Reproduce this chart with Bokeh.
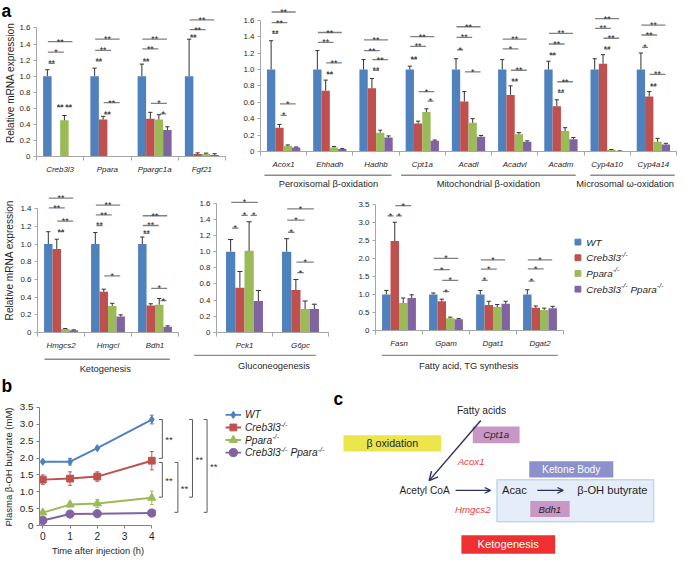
import math
from bokeh.plotting import figure
from bokeh.models import Range1d, FixedTicker, Arrow, OpenHead
from bokeh.layouts import row, column
from bokeh.embed import file_html
from bokeh.resources import INLINE
from bokeh.core.properties import value

S = 0.97
FONT = "Liberation Sans"
AXC = "#a6a6a6"
TXT = "#1f1f1f"
SIGC = "#808080"
ERRC = "#333333"
NAVY = "#2e3061"
REDTXT = "#ee3b3b"

# ---------------- data ----------------
series_colors = ["#4f81bd", "#c0504d", "#9bbb59", "#8064a2"]
legend_parts = [
    [("WT", False)],
    [("Creb3l3", False), ("-/-", True)],
    [("Ppara", False), ("-/-", True)],
    [("Creb3l3", False), ("-/-", True), (" ", False), ("Ppara", False), ("-/-", True)],
]

a_yticks16 = [0, 0.2, 0.4, 0.6, 0.8, 1.0, 1.2, 1.4, 1.6]
a_yticks14 = [0, 0.2, 0.4, 0.6, 0.8, 1.0, 1.2, 1.4]
y_ticks35 = [0, 0.5, 1.0, 1.5, 2.0, 2.5, 3.0, 3.5]

genes_a1 = ["Creb3l3", "Ppara", "Ppargc1a", "Fgf21"]
a1_wt = [1.00, 1.00, 1.00, 1.00]
a1_wt_err = [0.08, 0.10, 0.15, 0.46]
a1_creb = [0.00, 0.46, 0.47, 0.03]
a1_creb_err = [0.00, 0.04, 0.08, 0.015]
a1_ppara = [0.45, 0.00, 0.46, 0.03]
a1_ppara_err = [0.06, 0.00, 0.06, 0.012]
a1_dko = [0.00, 0.00, 0.33, 0.02]
a1_dko_err = [0.00, 0.00, 0.04, 0.015]
a1_sig = [(0, 0, 1, 1.16, "**"), (0, 0, 2, 1.30, "*"), (0, 0, 3, 1.43, "**"),
          (0, 1, 2, 0.62, "**"), (0, 2, 3, 0.62, "**"),
          (1, 0, 1, 1.19, "**"), (1, 0, 2, 1.32, "**"), (1, 0, 3, 1.46, "**"),
          (1, 1, 2, 0.53, "**"), (1, 1, 3, 0.67, "**"),
          (2, 0, 1, 1.19, "**"), (2, 0, 2, 1.34, "**"), (2, 0, 3, 1.46, "**"),
          (2, 1, 3, 0.66, "*"), (2, 2, 3, 0.53, "*"),
          (3, 0, 1, 1.49, "**"), (3, 0, 2, 1.58, "**"), (3, 0, 3, 1.70, "**")]

genes_a2 = ["Acox1", "Ehhadh", "Hadhb", "Cpt1a", "Acadl", "Acadvl", "Acadm", "Cyp4a10", "Cyp4a14"]
a2_wt = [1.00, 1.00, 1.00, 1.00, 1.00, 1.00, 1.00, 1.00, 1.00]
a2_wt_err = [0.35, 0.23, 0.12, 0.04, 0.13, 0.12, 0.10, 0.13, 0.20]
a2_creb = [0.29, 0.74, 0.77, 0.34, 0.61, 0.69, 0.55, 1.07, 0.67]
a2_creb_err = [0.04, 0.13, 0.12, 0.03, 0.12, 0.11, 0.08, 0.11, 0.06]
a2_ppara = [0.07, 0.05, 0.23, 0.48, 0.35, 0.21, 0.25, 0.02, 0.12]
a2_ppara_err = [0.01, 0.01, 0.03, 0.04, 0.05, 0.02, 0.04, 0.005, 0.04]
a2_dko = [0.05, 0.03, 0.17, 0.13, 0.18, 0.12, 0.15, 0.005, 0.085]
a2_dko_err = [0.005, 0.005, 0.02, 0.01, 0.015, 0.01, 0.02, 0.003, 0.015]
a2_sig = [(0, 0, 1, 1.44, "**"), (0, 0, 2, 1.57, "**"), (0, 0, 3, 1.70, "**"),
          (0, 1, 2, 0.44, "*"), (0, 1, 3, 0.58, "*"),
          (1, 0, 2, 1.33, "**"), (1, 0, 3, 1.45, "**"), (1, 1, 2, 0.95, "**"), (1, 1, 3, 1.08, "**"),
          (2, 0, 2, 1.23, "**"), (2, 0, 3, 1.36, "**"), (2, 1, 2, 0.99, "**"), (2, 1, 3, 1.12, "**"),
          (3, 0, 1, 1.13, "**"), (3, 0, 2, 1.28, "**"), (3, 0, 3, 1.40, "**"),
          (3, 1, 3, 0.73, "*"), (3, 2, 3, 0.615, "*"),
          (4, 0, 1, 1.24, "*"), (4, 0, 2, 1.39, "**"), (4, 0, 3, 1.52, "**"), (4, 1, 3, 0.97, "*"),
          (5, 0, 2, 1.25, "*"), (5, 0, 3, 1.37, "**"), (5, 1, 2, 0.86, "**"), (5, 1, 3, 0.99, "**"),
          (6, 0, 1, 1.18, "**"), (6, 0, 2, 1.31, "**"), (6, 0, 3, 1.44, "**"),
          (6, 1, 2, 0.72, "**"), (6, 1, 3, 0.85, "**"),
          (7, 0, 2, 1.50, "**"), (7, 0, 3, 1.62, "**"), (7, 1, 2, 1.25, "**"), (7, 1, 3, 1.38, "**"),
          (8, 0, 1, 1.27, "*"), (8, 0, 2, 1.42, "**"), (8, 0, 3, 1.54, "**"),
          (8, 1, 2, 0.80, "**"), (8, 1, 3, 0.94, "**")]
a2_groups = ["Peroxisomal \u03b2-oxidation", "Mitochondrial \u03b2-oxidation", "Microsomal \u03c9-oxidation"]

genes_a3 = ["Hmgcs2", "Hmgcl", "Bdh1"]
a3_wt = [1.00, 1.00, 1.00]
a3_wt_err = [0.14, 0.13, 0.08]
a3_creb = [0.945, 0.46, 0.305]
a3_creb_err = [0.11, 0.03, 0.02]
a3_ppara = [0.04, 0.30, 0.315]
a3_ppara_err = [0.005, 0.03, 0.07]
a3_dko = [0.025, 0.18, 0.065]
a3_dko_err = [0.005, 0.02, 0.01]
a3_sig = [(0, 0, 3, 1.52, "**"), (0, 0, 2, 1.41, "**"), (0, 1, 3, 1.26, "**"), (0, 1, 2, 1.14, "**"),
          (1, 0, 3, 1.44, "**"), (1, 0, 2, 1.33, "**"), (1, 0, 1, 1.21, "**"), (1, 1, 3, 0.64, "*"),
          (2, 0, 3, 1.32, "**"), (2, 0, 2, 1.21, "**"), (2, 0, 1, 1.12, "**"),
          (2, 1, 3, 0.50, "*"), (2, 2, 3, 0.36, "*")]
a3_groups = ["Ketogenesis"]

genes_a4 = ["Pck1", "G6pc"]
a4_wt = [1.00, 1.00]
a4_wt_err = [0.15, 0.16]
a4_creb = [0.555, 0.525]
a4_creb_err = [0.20, 0.13]
a4_ppara = [1.01, 0.29]
a4_ppara_err = [0.36, 0.10]
a4_dko = [0.39, 0.29]
a4_dko_err = [0.13, 0.06]
a4_sig = [(0, 0, 1, 1.29, "*"), (0, 1, 2, 1.45, "*"), (0, 2, 3, 1.45, "*"), (0, 0, 3, 1.61, "*"),
          (1, 0, 1, 1.24, "*"), (1, 0, 2, 1.39, "*"), (1, 0, 3, 1.53, "*"),
          (1, 1, 2, 0.74, "*"), (1, 1, 3, 0.87, "*")]
a4_groups = ["Gluconeogenesis"]

genes_a5 = ["Fasn", "Gpam", "Dgat1", "Dgat2"]
a5_wt = [1.00, 1.00, 1.00, 1.00]
a5_wt_err = [0.11, 0.04, 0.11, 0.13]
a5_creb = [2.48, 0.81, 0.71, 0.63]
a5_creb_err = [0.52, 0.06, 0.10, 0.05]
a5_ppara = [0.76, 0.34, 0.65, 0.57]
a5_ppara_err = [0.14, 0.03, 0.07, 0.05]
a5_dko = [0.90, 0.31, 0.74, 0.62]
a5_dko_err = [0.09, 0.02, 0.07, 0.05]
a5_sig = [(0, 0, 1, 3.18, "*"), (0, 1, 2, 3.18, "*"), (0, 1, 3, 3.46, "*"),
          (1, 0, 3, 2.00, "*"), (1, 0, 2, 1.69, "*"), (1, 1, 3, 1.39, "*"), (1, 1, 2, 1.08, "*"),
          (2, 0, 3, 1.96, "*"), (2, 0, 2, 1.70, "*"), (2, 0, 1, 1.39, "*"),
          (3, 0, 3, 1.96, "*"), (3, 0, 2, 1.71, "*"), (3, 0, 1, 1.37, "*")]
a5_groups = ["Fatty acid, TG synthesis"]

b_time = [0, 1, 2, 4]
b_xticks = [0, 1, 2, 3, 4]
b_wt = [1.89, 1.89, 2.29, 3.14]
b_wt_err = [0.04, 0.10, 0.04, 0.13]
b_creb = [1.36, 1.39, 1.45, 1.92]
b_creb_err = [0.14, 0.20, 0.14, 0.27]
b_ppara = [0.38, 0.62, 0.65, 0.82]
b_ppara_err = [0.05, 0.07, 0.12, 0.20]
b_dko = [0.15, 0.34, 0.35, 0.37]
b_dko_err = [0.02, 0.03, 0.03, 0.03]
b_markers = ["diamond", "square", "triangle", "circle"]
# significance brackets at 4 h between series (i, j)
b_bracket_pairs = [(0, 1), (1, 2), (1, 3), (0, 2), (0, 3)]
b_bracket_labels = ["**", "**", "**", "**", "**"]

# ---------------- helpers ----------------
ARIAL = {"W": 944, "T": 611, "C": 722, "r": 333, "e": 556, "b": 556, "3": 556, "l": 222,
         "P": 667, "p": 556, "a": 556, " ": 278, "-": 333, "/": 278}


def R(v):
    return int(round(v * S))


def PX(v):
    return f"{v * S:.2f}px"


def tw(s, size_px):
    return sum(ARIAL.get(c, 556) for c in s) * size_px / 1000.0


def iso(p):
    # wrap in its own column so that its frame is not aligned with sibling plots
    return column(p)


def gtext(p, x, y, s, size, color=TXT, style="normal", align="center", baseline="middle", angle=0.0):
    p.text(x=[x], y=[y], text=[s], angle=angle, text_font=value(FONT),
           text_font_size=value(PX(size)), text_font_style=value(style),
           text_align=value(align), text_baseline=value(baseline), text_color=color)


def rich(p, x, y, parts, size, sup_dy, color=TXT):
    off = 0.0
    for txt, sup in parts:
        fsz = size * 0.72 if sup else size
        if txt.strip() == "":
            off += tw(txt, fsz * S)
            continue
        yy = y + sup_dy if sup else y
        p.text(x=[x], y=[yy], text=[txt], x_offset=off, text_font=value(FONT),
               text_font_size=value(PX(fsz)), text_font_style=value("italic"),
               text_align=value("left"), text_baseline=value("middle"), text_color=color)
        off += tw(txt, fsz * S)


def blank(x0, x1, y0, y1, flip=True):
    """Axis-less canvas whose data coordinates are reference pixels."""
    yr = Range1d(y1, y0) if flip else Range1d(-y1, -y0)
    p = figure(width=R(x1) - R(x0), height=R(y1) - R(y0),
               x_range=Range1d(x0, x1), y_range=yr,
               x_axis_type=None, y_axis_type=None, output_backend="svg", toolbar_location=None,
               min_border=0, min_border_left=0, min_border_right=0, min_border_top=0,
               min_border_bottom=0)
    p.outline_line_color = None
    p.grid.visible = False
    return p


def tick_labels(ticks):
    return {t: ("0" if t == 0 else f"{t:.1f}") for t in ticks}


def bar_panel(genes, vals, errs, sigs, box, frame, zero_y, ppu, yticks, bw):
    fx0, fx1, fy0, fy1 = box
    left, right, top = frame
    n = len(genes)
    ytop = (zero_y - top) / ppu
    p = figure(width=R(fx1) - R(fx0), height=R(fy1) - R(fy0),
               x_range=Range1d(-0.5, n - 0.5), y_range=Range1d(0, ytop),
               output_backend="svg", toolbar_location=None,
               min_border_left=R(left) - R(fx0), min_border_right=R(fx1) - R(right),
               min_border_top=R(top) - R(fy0), min_border_bottom=R(fy1) - R(zero_y))
    p.outline_line_color = None
    p.xgrid.visible = False
    p.ygrid.visible = False

    offs = [(k - 1.5) * bw for k in range(4)]
    for k in range(4):
        xs = [g + offs[k] for g in range(n)]
        p.vbar(x=xs, top=vals[k], width=bw, bottom=0, fill_color=series_colors[k], line_color=None)
    cw = 0.045
    for k in range(4):
        ex, e0, e1 = [], [], []
        for g in range(n):
            if errs[k][g] > 0:
                ex.append(g + offs[k])
                e0.append(vals[k][g])
                e1.append(vals[k][g] + errs[k][g])
        p.segment(x0=ex, y0=e0, x1=ex, y1=e1, line_color=ERRC, line_width=1)
        p.segment(x0=[x - cw for x in ex], y0=e1, x1=[x + cw for x in ex], y1=e1,
                  line_color=ERRC, line_width=1)
    lx0, lx1, ly, tx, tt = [], [], [], [], []
    for g, i, j, yv, lab in sigs:
        # adjacent pairs get slightly shorter lines so neighbouring marks stay apart
        trim = 0.025 if j - i == 1 else 0.01
        lx0.append(g + offs[i] + trim)
        lx1.append(g + offs[j] - trim)
        ly.append(yv)
        tx.append(g + (offs[i] + offs[j]) / 2)
        tt.append(lab)
    p.segment(x0=lx0, y0=ly, x1=lx1, y1=ly, line_color=SIGC, line_width=1.3)
    p.text(x=tx, y=ly, text=tt, text_font=value(FONT), text_font_size=value(PX(9.2)),
           text_align=value("center"), text_baseline=value("alphabetic"), text_color="#2a2a2a")

    xa = p.xaxis[0]
    xa.ticker = FixedTicker(ticks=list(range(n)), minor_ticks=[i - 0.5 for i in range(n + 1)])
    xa.major_label_overrides = {i: g for i, g in enumerate(genes)}
    xa.major_tick_out = 0
    xa.major_tick_in = 0
    xa.minor_tick_out = 4
    xa.minor_tick_in = 0
    xa.minor_tick_line_color = AXC
    xa.axis_line_color = AXC
    xa.major_label_text_font = FONT
    xa.major_label_text_font_style = "italic"
    xa.major_label_text_font_size = PX(8.2)
    xa.major_label_text_color = TXT
    xa.major_label_standoff = 4

    ya = p.yaxis[0]
    ya.ticker = FixedTicker(ticks=yticks)
    ya.bounds = (0, yticks[-1])
    ya.major_label_overrides = tick_labels(yticks)
    ya.minor_tick_line_color = None
    ya.major_tick_out = 3
    ya.major_tick_in = 0
    ya.major_tick_line_color = AXC
    ya.axis_line_color = AXC
    ya.major_label_text_font = FONT
    ya.major_label_text_font_size = PX(8.2)
    ya.major_label_text_color = TXT
    ya.major_label_standoff = 3
    return p


def group_strip(names, geo, box, line_y, text_y):
    x0, x1, y0, y1 = box
    p = blank(x0, x1, y0, y1)
    p.segment(x0=[g[0] for g in geo], y0=[line_y] * len(geo), x1=[g[1] for g in geo],
              y1=[line_y] * len(geo), line_color="#8c8c8c", line_width=1.4)
    for name, g in zip(names, geo):
        gtext(p, g[2], text_y, name, 9.6)
    return p


# ---------------- panel a ----------------
s1 = blank(0, 16, 0, 194, flip=False)
gtext(s1, 1, -11, "a", 18, color="#000000", style="bold", align="left")
gtext(s1, 10, -85, "Relative mRNA expression", 10.4, angle=math.pi / 2)

pa1 = bar_panel(genes_a1, [a1_wt, a1_creb, a1_ppara, a1_dko],
                [a1_wt_err, a1_creb_err, a1_ppara_err, a1_dko_err], a1_sig,
                box=(16, 236, 0, 194), frame=(37, 232, 8), zero_y=160.7, ppu=82.9,
                yticks=a_yticks16, bw=0.18)

pa2 = bar_panel(genes_a2, [a2_wt, a2_creb, a2_ppara, a2_dko],
                [a2_wt_err, a2_creb_err, a2_ppara_err, a2_dko_err], a2_sig,
                box=(236, 700, 0, 176), frame=(268, 697, 1), zero_y=159.3, ppu=86.6,
                yticks=a_yticks16, bw=0.18)
pa2s = group_strip(a2_groups, [(272, 403, 338), (413, 593, 503), (608, 695, 644)],
                   (236, 700, 176, 194), 180, 189)

s2 = blank(0, 16, 194, 386, flip=False)
gtext(s2, 9, -268, "Relative mRNA expression", 10.4, angle=math.pi / 2)

pa3 = bar_panel(genes_a3, [a3_wt, a3_creb, a3_ppara, a3_dko],
                [a3_wt_err, a3_creb_err, a3_ppara_err, a3_dko_err], a3_sig,
                box=(16, 185, 194, 364), frame=(38, 183, 194.5), zero_y=342.3, ppu=91.4,
                yticks=a_yticks14, bw=0.18)
pa3s = group_strip(a3_groups, [(45, 175, 108)], (16, 185, 364, 386), 370, 380)

pa4 = bar_panel(genes_a4, [a4_wt, a4_creb, a4_ppara, a4_dko],
                [a4_wt_err, a4_creb_err, a4_ppara_err, a4_dko_err], a4_sig,
                box=(185, 340, 194, 364), frame=(223, 338, 197), zero_y=342.3, ppu=83.3,
                yticks=a_yticks16, bw=0.165)
pa4s = group_strip(a4_groups, [(200, 325, 282)], (185, 340, 364, 386), 366, 377)

pa5 = bar_panel(genes_a5, [a5_wt, a5_creb, a5_ppara, a5_dko],
                [a5_wt_err, a5_creb_err, a5_ppara_err, a5_dko_err], a5_sig,
                box=(340, 585, 194, 364), frame=(387, 580, 198), zero_y=340.3, ppu=37.2,
                yticks=y_ticks35, bw=0.18)
pa5s = group_strip(a5_groups, [(393, 575, 483)], (340, 585, 364, 386), 366, 377)

pleg = blank(585, 700, 194, 386)
leg_y = [249.3 + 16.2 * k for k in range(len(series_colors))]
pleg.scatter(x=[595.7] * len(series_colors), y=leg_y, marker="square", size=6 * S,
             fill_color=series_colors, line_color=series_colors)
for k, parts in enumerate(legend_parts):
    rich(pleg, 604.3, leg_y[k], parts, 10.2, -3.2)

# ---------------- panel b ----------------
B_PPX = 29.0
B_PPU = 35.7
B_X0 = -0.12
b_left = 40 + B_X0 * B_PPX
B_RIGHT = 161
s3 = blank(0, 16, 386, 575, flip=False)
gtext(s3, 1, -398, "b", 18, color="#000000", style="bold", align="left")
gtext(s3, 8, -481, "Plasma \u03b2-OH butyrate (mM)", 9.8, angle=math.pi / 2)

pb = figure(width=R(B_RIGHT) - R(16), height=R(575) - R(386),
            x_range=Range1d(B_X0, B_X0 + (B_RIGHT - b_left) / B_PPX),
            y_range=Range1d(0, (544 - 416) / B_PPU),
            output_backend="svg", toolbar_location=None,
            min_border_left=R(b_left) - R(16), min_border_right=0,
            min_border_top=R(416) - R(386), min_border_bottom=R(575) - R(544))
pb.outline_line_color = None
pb.xgrid.visible = False
pb.ygrid.visible = False


def YB(r):
    return (544 - r) / B_PPU


b_vals = [b_wt, b_creb, b_ppara, b_dko]
b_errs = [b_wt_err, b_creb_err, b_ppara_err, b_dko_err]
b_msize = [7.5, 7, 8.5, 8.5]
for k in range(4):
    c = series_colors[k]
    pb.line(b_time, b_vals[k], line_color=c, line_width=2 * S)
    lo = [v - e for v, e in zip(b_vals[k], b_errs[k])]
    hi = [v + e for v, e in zip(b_vals[k], b_errs[k])]
    pb.segment(x0=b_time, y0=lo, x1=b_time, y1=hi, line_color=c, line_width=1)
    pb.segment(x0=[t - 0.07 for t in b_time], y0=hi, x1=[t + 0.07 for t in b_time], y1=hi,
               line_color=c, line_width=1)
    pb.segment(x0=[t - 0.07 for t in b_time], y0=lo, x1=[t + 0.07 for t in b_time], y1=lo,
               line_color=c, line_width=1)
    pb.scatter(b_time, b_vals[k], marker=b_markers[k], size=b_msize[k] * S,
               fill_color=c, line_color=c)

xb_ax = pb.xaxis[0]
xb_ax.ticker = FixedTicker(ticks=b_xticks)
xb_ax.bounds = (B_X0, 4)
xb_ax.minor_tick_line_color = None
xb_ax.major_tick_out = 3
xb_ax.major_tick_in = 0
xb_ax.major_tick_line_color = "#808080"
xb_ax.axis_line_color = "#808080"
xb_ax.major_label_text_font = FONT
xb_ax.major_label_text_font_size = PX(10.5)
xb_ax.major_label_text_color = TXT
xb_ax.major_label_standoff = 3
xb_ax.axis_label = "Time after injection (h)"
xb_ax.axis_label_text_font = FONT
xb_ax.axis_label_text_font_style = "normal"
xb_ax.axis_label_text_font_size = PX(9.6)
xb_ax.axis_label_text_color = TXT
xb_ax.axis_label_standoff = 3

yb_ax = pb.yaxis[0]
yb_ax.ticker = FixedTicker(ticks=y_ticks35)
yb_ax.bounds = (0, 3.5)
yb_ax.major_label_overrides = tick_labels(y_ticks35)
yb_ax.minor_tick_line_color = None
yb_ax.major_tick_out = 3
yb_ax.major_tick_in = 0
yb_ax.major_tick_line_color = "#808080"
yb_ax.axis_line_color = "#808080"
yb_ax.major_label_text_font = FONT
yb_ax.major_label_text_font_size = PX(10.2)
yb_ax.major_label_text_color = TXT
yb_ax.major_label_standoff = 3

# brackets + legend share panel b's y scale (x in reference pixels)
pbr = figure(width=R(342) - R(B_RIGHT), height=R(575) - R(386),
             x_range=Range1d(B_RIGHT, 342), y_range=pb.y_range,
             x_axis_type=None, y_axis_type=None, output_backend="svg", toolbar_location=None,
             min_border_left=0, min_border_right=0,
             min_border_top=R(416) - R(386), min_border_bottom=R(575) - R(544))
pbr.outline_line_color = None
pbr.grid.visible = False

bracket_x = [167, 167, 183, 198, 213]
for (i, j), lab, xb in zip(b_bracket_pairs, b_bracket_labels, bracket_x):
    y1 = b_vals[i][-1] - (0.05 if i == 1 else 0.0)
    y2 = b_vals[j][-1] + (0.07 if j == 1 else 0.02)
    pbr.segment(x0=[xb, xb - 3.5, xb - 3.5], y0=[y1, y1, y2], x1=[xb, xb, xb], y1=[y2, y1, y2],
                line_color="#5a5a5a", line_width=1)
    gtext(pbr, xb + 3, (y1 + y2) / 2 - 0.03, lab, 10, color="#333333", align="left")

bl_y = [YB(427 + 13.3 * k) for k in range(4)]
for k in range(4):
    c = series_colors[k]
    pbr.segment(x0=[232], y0=[bl_y[k]], x1=[248], y1=[bl_y[k]], line_color=c, line_width=2 * S)
    pbr.scatter([240], [bl_y[k]], marker=b_markers[k], size=b_msize[k] * S,
                fill_color=c, line_color=c)
    rich(pbr, 252, bl_y[k], legend_parts[k], 10.5, 3.3 / B_PPU)

# ---------------- panel c (diagram, reference-pixel coordinates) ----------------
pc = blank(342, 700, 386, 575)
pc.quad(left=[511.7], right=[673.3], top=[494], bottom=[537.3], fill_color="#e4edf8",
        line_color="#c5d6ea", line_width=1.5)
pc.quad(left=[353.3, 486.7, 545, 546, 475], right=[454, 535, 631.7, 586.7, 571.7],
        top=[448.3, 439.3, 475, 516, 551], bottom=[465, 456.7, 491.7, 532.3, 570],
        fill_color=["#ebe64c", "#c997c6", "#8c90cb", "#c997c6", "#ee3030"], line_color=None)

pc.add_layout(Arrow(x_start=495, y_start=433.3, x_end=441.7, y_end=495,
                    end=OpenHead(size=9 * S, line_color=NAVY, line_width=1.5 * S),
                    line_color=NAVY, line_width=1.5 * S))
pc.add_layout(Arrow(x_start=469, y_start=505, x_end=505, y_end=505,
                    end=OpenHead(size=6 * S, line_color=NAVY, line_width=1.3 * S),
                    line_color=NAVY, line_width=1.3 * S))
pc.add_layout(Arrow(x_start=553.3, y_start=505, x_end=580, y_end=505,
                    end=OpenHead(size=6 * S, line_color=NAVY, line_width=1.3 * S),
                    line_color=NAVY, line_width=1.3 * S))

gtext(pc, 343, 411, "c", 18, color="#000000", style="bold", align="left")
gtext(pc, 495.7, 423.3, "Fatty acids", 10.5)
gtext(pc, 510.8, 448, "Cpt1a", 10, style="italic")
gtext(pc, 403.7, 456.7, "\u03b2 oxidation", 11)
gtext(pc, 485, 475, "Acox1", 10, color=REDTXT, style="italic")
gtext(pc, 588.3, 483.3, "Ketone Body", 10.5, color="#ffffff")
gtext(pc, 437, 505, "Acetyl CoA", 10.5)
gtext(pc, 529.7, 505, "Acac", 11.5)
gtext(pc, 630.8, 505, "\u03b2-OH butyrate", 11.5)
gtext(pc, 486.7, 524.3, "Hmgcs2", 10, color=REDTXT, style="italic")
gtext(pc, 566.3, 524.3, "Bdh1", 10, style="italic")
gtext(pc, 523.3, 560.5, "Ketogenesis", 11.5, color="#ffffff")

layout = column(
    row(iso(s1), iso(pa1), column(iso(pa2), iso(pa2s))),
    row(iso(s2), column(iso(pa3), iso(pa3s)), column(iso(pa4), iso(pa4s)),
        column(iso(pa5), iso(pa5s)), iso(pleg)),
    row(iso(s3), pb, pbr, iso(pc)),
)

open("out.html", "w").write(file_html(layout, INLINE))
